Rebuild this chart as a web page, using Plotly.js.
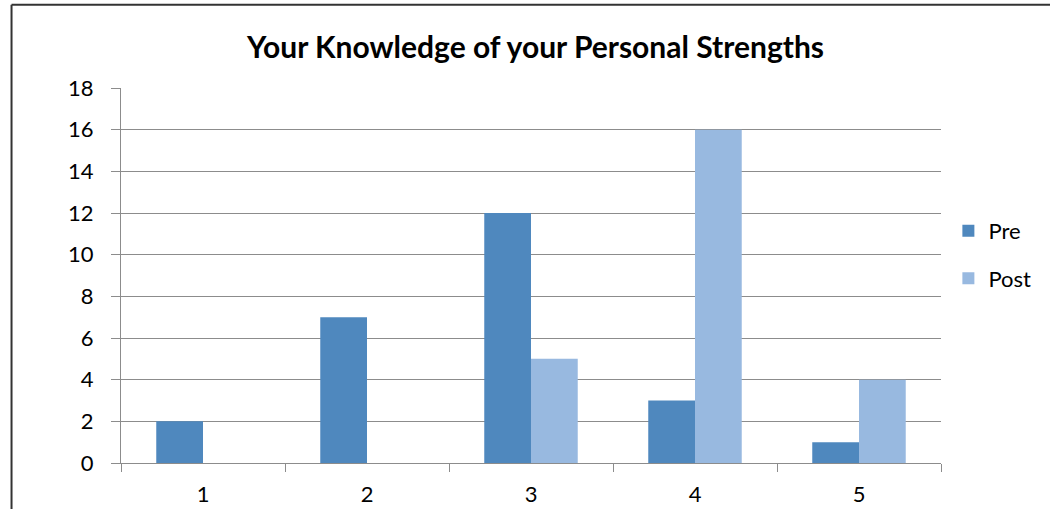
<!DOCTYPE html>
<html>
<head>
<meta charset="utf-8">
<script src="https://cdn.plot.ly/plotly-3.0.1.min.js"></script>
<style>
  html, body { margin: 0; padding: 0; background: #ffffff; }
  #chart { width: 1050px; height: 509px; }
</style>
</head>
<body>
<div id="chart"></div>
<script>
// Rating categories (1 = lowest, 5 = highest)
const categories = ['1', '2', '3', '4', '5'];
// Number of respondents per rating
const preCounts = [2, 7, 12, 3, 1];
const postCounts = [0, 0, 5, 16, 4];
const yTicks = [0, 2, 4, 6, 8, 10, 12, 14, 16, 18];

const font = 'Lato, "Open Sans", sans-serif';
const gridColor = '#8c8c8c';

const traces = [
  {
    type: 'bar', name: 'Pre', x: categories, y: preCounts,
    marker: { color: '#4f88be', line: { width: 0 } },
    legendgroup: 'pre', hoverinfo: 'x+y+name'
  },
  {
    type: 'bar', name: 'Post', x: categories, y: postCounts,
    marker: { color: '#98b9e0', line: { width: 0 } },
    legendgroup: 'post', hoverinfo: 'x+y+name'
  }
];

const layout = {
  width: 1050, height: 509,
  paper_bgcolor: '#ffffff', plot_bgcolor: '#ffffff',
  margin: { l: 121, r: 109, t: 88, b: 46, autoexpand: false },
  font: { family: font, size: 22, color: '#000000' },
  title: {
    text: '<b>Your Knowledge of your Personal Strengths</b>',
    font: { family: font, size: 30, color: '#000000' },
    x: 0.51, xanchor: 'center', y: 0.907, yanchor: 'middle'
  },
  barmode: 'group', bargap: 0.43, bargroupgap: 0,
  xaxis: {
    type: 'category',
    tickson: 'boundaries', ticks: 'outside', ticklen: 8, tickcolor: gridColor, tickwidth: 1,
    showline: true, linecolor: gridColor, linewidth: 1,
    showgrid: false, zeroline: false,
    tickfont: { family: font, size: 22 },
    ticklabelstandoff: 12
  },
  yaxis: {
    range: [0, 18], tickvals: yTicks,
    ticks: 'outside', ticklen: 9, tickcolor: gridColor, tickwidth: 1,
    showline: true, linecolor: gridColor, linewidth: 1,
    showgrid: true, gridcolor: gridColor, gridwidth: 1,
    zeroline: false,
    tickfont: { family: font, size: 22 },
    ticklabelstandoff: 13
  },
  showlegend: true,
  legend: {
    x: 1.009, xanchor: 'left', y: 0.555, yanchor: 'middle',
    traceorder: 'grouped', tracegroupgap: 16,
    font: { family: font, size: 22, color: '#000000' },
    itemwidth: 30, bgcolor: 'rgba(0,0,0,0)'
  },
  shapes: [
    // outer chart frame (left and top edges)
    { type: 'line', xref: 'paper', yref: 'paper', x0: -0.1335, x1: -0.1335, y0: 1.222, y1: -0.2,
      line: { color: '#333333', width: 2 } },
    { type: 'line', xref: 'paper', yref: 'paper', x0: -0.1335, x1: 1.2, y0: 1.222, y1: 1.222,
      line: { color: '#333333', width: 2 } }
  ]
};

Plotly.newPlot('chart', traces, layout, { displayModeBar: false, staticPlot: true });
</script>
</body>
</html>
